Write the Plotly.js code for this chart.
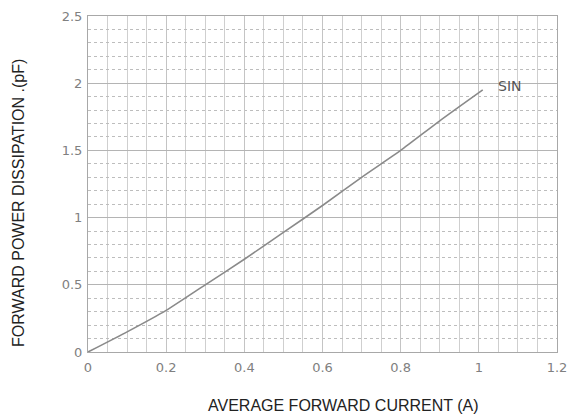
<!DOCTYPE html>
<html>
<head>
<meta charset="utf-8">
<script src="https://cdn.plot.ly/plotly-3.0.1.min.js"></script>
<style>html,body{margin:0;padding:0;background:#fff;}#chart{width:570px;height:416px;}</style>
</head>
<body>
<div id="chart"></div>
<script>
const currentA = [0, 0.1, 0.2, 0.3, 0.4, 0.5, 0.6, 0.7, 0.8, 0.9, 1.01];
const powerSin = [0, 0.15, 0.31, 0.5, 0.69, 0.89, 1.09, 1.3, 1.5, 1.72, 1.95];
const seriesLabel = "SIN";
const xTitle = "AVERAGE FORWARD CURRENT (A)";
const yTitle = "FORWARD POWER DISSIPATION .(pF)";
const xTickVals = [0, 0.2, 0.4, 0.6, 0.8, 1, 1.2];
const xTickText = ["0", "0.2", "0.4", "0.6", "0.8", "1", "1.2"];
const yTickVals = [0, 0.5, 1, 1.5, 2, 2.5];
const yTickText = ["0", "0.5", "1", "1.5", "2", "2.5"];

const trace = {
  x: currentA, y: powerSin, type: 'scatter', mode: 'lines',
  line: {color: '#8a8a8a', width: 1.6, shape: 'spline', smoothing: 0.6},
  showlegend: false, hoverinfo: 'skip'
};

const pw = 570 - 88 - 13, ph = 416 - 16 - 64;
const layout = {
  width: 570, height: 416,
  margin: {l: 88, r: 13, t: 16, b: 64},
  paper_bgcolor: '#ffffff', plot_bgcolor: '#ffffff',
  font: {family: 'Liberation Sans, Arial, sans-serif', color: '#222'},
  xaxis: {
    range: [0, 1.2], tickvals: xTickVals, ticktext: xTickText,
    showgrid: true, gridcolor: '#c4c4c4', gridwidth: 1,
    minor: {dtick: 0.05, showgrid: true, gridcolor: '#cfcfcf', gridwidth: 1, griddash: 'solid'},
    showline: true, linecolor: '#a8a8a8', linewidth: 1, mirror: true,
    zeroline: false, ticks: '', ticklen: 0, ticklabelstandoff: 3,
    tickfont: {family: 'DejaVu Sans, sans-serif', size: 13, color: '#808080'}
  },
  yaxis: {
    range: [0, 2.5], tickvals: yTickVals, ticktext: yTickText,
    showgrid: true, gridcolor: '#b4b4b4', gridwidth: 1,
    minor: {dtick: 0.1, showgrid: true, gridcolor: '#bdbdbd', gridwidth: 1, griddash: 'dot'},
    showline: true, linecolor: '#a8a8a8', linewidth: 1, mirror: true,
    zeroline: false, ticks: '', ticklen: 0, ticklabelstandoff: 2,
    tickfont: {family: 'DejaVu Sans, sans-serif', size: 13, color: '#808080'}
  },
  annotations: [
    {x: 1.08, y: 1.98, xref: 'x', yref: 'y', text: seriesLabel, showarrow: false,
     xanchor: 'center', yanchor: 'middle',
     font: {family: 'DejaVu Sans, sans-serif', size: 14, color: '#555'}},
    {x: (343 - 88) / pw, y: (352 - 405) / ph, xref: 'paper', yref: 'paper', text: xTitle, showarrow: false,
     xanchor: 'center', yanchor: 'middle',
     font: {size: 16, color: '#222'}},
    {x: (18 - 88) / pw, y: (352 - 203) / ph, xref: 'paper', yref: 'paper', text: yTitle, showarrow: false,
     textangle: -90, xanchor: 'center', yanchor: 'middle',
     font: {size: 16, color: '#222'}}
  ]
};

Plotly.newPlot('chart', [trace], layout, {displayModeBar: false, staticPlot: true});
</script>
</body>
</html>
